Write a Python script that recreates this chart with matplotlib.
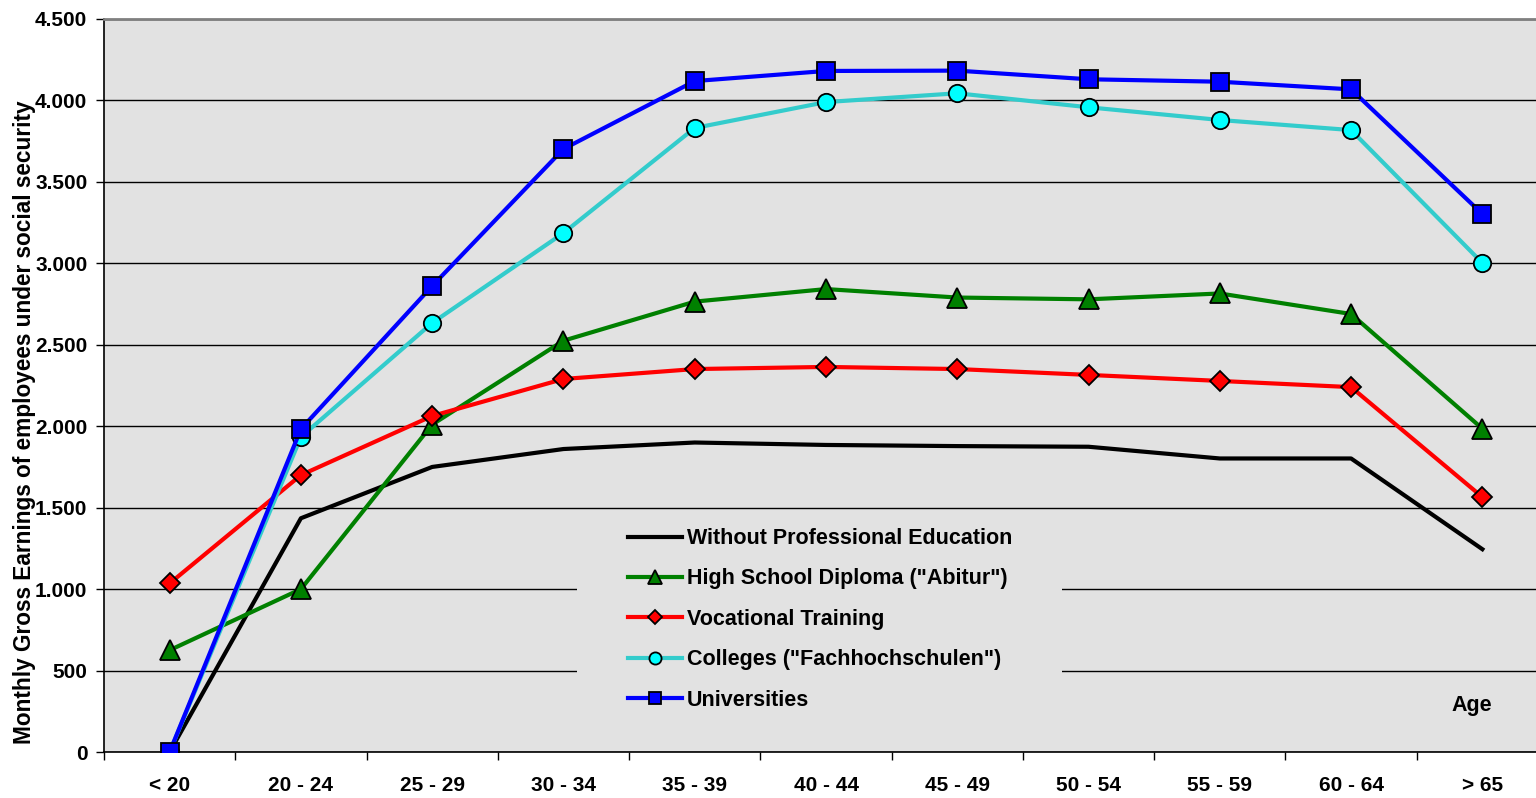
import matplotlib
matplotlib.use("Agg")
import matplotlib.pyplot as plt
from matplotlib.patches import Rectangle
from matplotlib.ticker import FuncFormatter, FixedLocator

plt.rcParams["font.family"] = ["Liberation Sans", "DejaVu Sans"]
plt.rcParams["font.weight"] = "bold"

# Age groups and monthly gross earnings (EUR) per education level
age_groups = ["< 20", "20 - 24", "25 - 29", "30 - 34", "35 - 39", "40 - 44",
              "45 - 49", "50 - 54", "55 - 59", "60 - 64", "> 65"]
no_education = [0, 1435, 1750, 1860, 1900, 1885, 1878, 1874, 1802, 1802, 1245]
abitur = [625, 1000, 2010, 2525, 2765, 2842, 2790, 2779, 2815, 2689, 1985]
vocational = [1035, 1700, 2063, 2290, 2351, 2364, 2351, 2315, 2278, 2240, 1565]
colleges = [0, 1934, 2634, 3186, 3831, 3990, 4044, 3958, 3880, 3818, 3002]
universities = [0, 1983, 2861, 3702, 4119, 4181, 4183, 4130, 4115, 4068, 3303]

bg = "#E2E2E2"
x = range(len(age_groups))

fig = plt.figure(figsize=(15.36, 7.98), dpi=100)
ax = fig.add_axes([104 / 1536, 1 - 752 / 798, 1444 / 1536, 733 / 798])
ax.set_facecolor(bg)

ax.plot(x, no_education, color="black", lw=3, zorder=3,
        label="Without Professional Education")
ax.plot(x, abitur, color="#008000", lw=3, marker="^", ms=14,
        mfc="#008000", mec="black", mew=1.3, zorder=4,
        label='High School Diploma ("Abitur")')
ax.plot(x, vocational, color="#FF0000", lw=3, marker="D", ms=10.5,
        mfc="#FF0000", mec="black", mew=1.3, zorder=5,
        label="Vocational Training")
ax.plot(x, colleges, color="#33CCCC", lw=3, marker="o", ms=12.5,
        mfc="#00FFFF", mec="black", mew=1.3, zorder=6,
        label='Colleges ("Fachhochschulen")')
ax.plot(x, universities, color="#0000FF", lw=3, marker="s", ms=12.5,
        mfc="#0000FF", mec="black", mew=1.3, zorder=7,
        label="Universities")

ax.set_xlim(-0.5, len(age_groups) - 0.5)
ax.set_ylim(0, 4500)

# y axis with German thousands separator
ax.set_yticks(range(0, 4501, 500))
ax.yaxis.set_major_formatter(FuncFormatter(lambda v, p: f"{v:,.0f}".replace(",", ".")))
ax.tick_params(axis="y", length=6, width=1, pad=6, labelsize=15)
ax.grid(axis="y", color="black", lw=1)
ax.set_axisbelow(True)

# category labels centred, tick marks between categories
ax.set_xticks(list(x))
ax.set_xticklabels(age_groups)
ax.xaxis.set_minor_locator(FixedLocator([i - 0.5 for i in range(len(age_groups) + 1)]))
ax.tick_params(axis="x", which="major", length=0, pad=17, labelsize=15)
ax.tick_params(axis="x", which="minor", length=6, width=1)

for side in ["left", "bottom"]:
    ax.spines[side].set_color("black")
    ax.spines[side].set_linewidth(1.2)
ax.spines["top"].set_color("#808080")
ax.spines["top"].set_linewidth(2)
ax.spines["right"].set_visible(False)

ax.set_ylabel("Monthly Gross Earnings of employees under social security",
              fontsize=16.3, fontweight="bold")
ax.yaxis.set_label_coords(-0.047, 0.45)

# plain box behind the legend that hides the gridlines
ax.add_patch(Rectangle((0.3275, 0.002), 0.336, 0.322, transform=ax.transAxes,
                       facecolor=bg, edgecolor="none", zorder=1))
ax.legend(loc="center left", bbox_to_anchor=(0.3629, 0.181), frameon=False,
          handlelength=2.5, handletextpad=0.25, labelspacing=0.9,
          markerscale=0.7, borderpad=0, borderaxespad=0,
          prop={"weight": "bold", "size": 15.5})

ax.text(0.947, 0.063, "Age", transform=ax.transAxes, ha="center", va="center",
        fontsize=15.5, fontweight="bold")

fig.savefig("out.png", dpi=100, facecolor="white")
